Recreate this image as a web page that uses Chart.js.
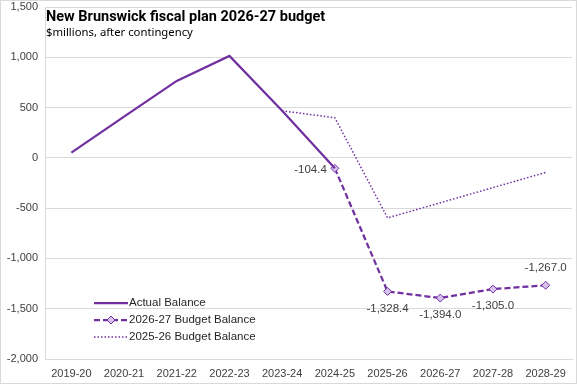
<!DOCTYPE html>
<html>
<head>
<meta charset="utf-8">
<script src="https://cdn.jsdelivr.net/npm/chart.js@4/dist/chart.umd.min.js"></script>
<style>
  html, body { margin: 0; padding: 0; background: #fff; }
  #wrap { position: relative; width: 577px; height: 384px; }
  #frame { position: absolute; left: 0; top: 0; width: 577px; height: 384px; box-sizing: border-box;
           border: 1px solid #d9d9d9; pointer-events: none; }
  #title { position: absolute; left: 46px; top: 8px; font: bold 14.5px Roboto, sans-serif; color: #000; }
  #subtitle { position: absolute; left: 46px; top: 24px; font: 11.3px "Noto Sans", sans-serif; color: #000; }
  #legend { position: absolute; left: 94px; top: 294px; font: 11.5px "Liberation Sans", Arial, sans-serif; color: #262626; }
  #legend div { height: 17px; line-height: 17px; display: flex; align-items: center; }
  #legend svg { margin-right: 1px; }
</style>
</head>
<body>
<div id="wrap">
  <canvas id="fiscalChart" width="577" height="384"></canvas>
  <div id="title">New Brunswick fiscal plan 2026-27 budget</div>
  <div id="subtitle">$millions, after contingency</div>
  <div id="legend">
    <div><svg width="34" height="10"><line x1="0" y1="5" x2="34" y2="5" stroke="#7030A0" stroke-width="2.25"/></svg>Actual Balance</div>
    <div><svg width="34" height="10"><line x1="0" y1="5" x2="34" y2="5" stroke="#7030A0" stroke-width="2.25" stroke-dasharray="6,3"/><polygon points="17,1 21,5 17,9 13,5" fill="#D6C2EE" stroke="#7030A0" stroke-width="1"/></svg>2026-27 Budget Balance</div>
    <div><svg width="34" height="10"><line x1="0" y1="5" x2="34" y2="5" stroke="#7030A0" stroke-width="1.5" stroke-dasharray="1.5,2"/></svg>2025-26 Budget Balance</div>
  </div>
  <div id="frame"></div>
</div>
<script>
var years = ["2019-20", "2020-21", "2021-22", "2022-23", "2023-24", "2024-25", "2025-26", "2026-27", "2027-28", "2028-29"];
var actualBalance = [52, 410, 765, 1013, 468, -104.4, null, null, null, null];
var budget2627 = [null, null, null, null, null, -104.4, -1328.4, -1394.0, -1305.0, -1267.0];
var budget2526 = [null, null, null, null, 468, 399, -597, -447, -296, -145];
var yTicks = [-2000, -1500, -1000, -500, 0, 500, 1000, 1500];

var purple = "#7030A0";

// value labels on the 2026-27 budget line
var valueLabels = {
    id: 'valueLabels',
    afterDatasetsDraw: function(chart) {
        var ctx = chart.ctx;
        var meta = chart.getDatasetMeta(1);
        ctx.save();
        ctx.font = '11.5px "Liberation Sans", Arial, sans-serif';
        ctx.fillStyle = '#404040';
        ctx.textBaseline = 'middle';
        meta.data.forEach(function(pt, i) {
            var v = budget2627[i];
            if (v === null) return;
            var txt = v.toLocaleString('en-US', {minimumFractionDigits: 1, maximumFractionDigits: 1});
            if (i === 5) {
                ctx.textAlign = 'right';
                ctx.fillText(txt, pt.x - 8, pt.y + 1);
            } else if (i === 9) {
                ctx.textAlign = 'center';
                ctx.fillText(txt, pt.x, pt.y - 17);
            } else {
                ctx.textAlign = 'center';
                ctx.fillText(txt, pt.x, pt.y + 17);
            }
        });
        ctx.restore();
    }
};

var ctx = document.getElementById('fiscalChart').getContext('2d');
var myChart = new Chart(ctx, {
    type: 'line',
    data: {
        labels: years,
        datasets: [{
            label: "Actual Balance",
            data: actualBalance,
            borderColor: purple,
            borderWidth: 2.25,
            pointRadius: 0,
            tension: 0
        }, {
            label: "2026-27 Budget Balance",
            data: budget2627,
            borderColor: purple,
            borderWidth: 2.25,
            borderDash: [6, 3],
            pointStyle: 'rectRot',
            pointRadius: 4,
            pointBackgroundColor: "#D6C2EE",
            pointBorderColor: purple,
            pointBorderWidth: 1,
            tension: 0
        }, {
            label: "2025-26 Budget Balance",
            data: budget2526,
            borderColor: purple,
            borderWidth: 1.5,
            borderDash: [1.5, 2],
            pointRadius: 0,
            tension: 0
        }]
    },
    options: {
        responsive: false,
        animation: false,
        layout: { padding: { top: 7, right: 4, left: 0, bottom: 0 } },
        plugins: {
            legend: { display: false },
            tooltip: { enabled: false }
        },
        scales: {
            x: {
                offset: true,
                grid: { display: false, drawTicks: false },
                border: { color: '#d9d9d9' },
                ticks: {
                    color: '#404040',
                    font: { family: '"Liberation Sans", Arial, sans-serif', size: 11 },
                    maxRotation: 0,
                    autoSkip: false,
                    padding: 8
                },
                afterFit: function(scale) { scale.height = 25; scale.paddingLeft = 0; scale.paddingRight = 0; }
            },
            y: {
                min: -2000,
                max: 1500,
                afterBuildTicks: function(scale) {
                    scale.ticks = yTicks.map(function(v) { return {value: v}; });
                },
                grid: { color: '#d9d9d9', drawTicks: false },
                border: { color: '#d9d9d9' },
                ticks: {
                    color: '#404040',
                    font: { family: '"Liberation Sans", Arial, sans-serif', size: 11 },
                    padding: 7,
                    callback: function(v) { return v.toLocaleString('en-US'); }
                },
                afterFit: function(scale) { scale.width = 45; scale.paddingTop = 0; scale.paddingBottom = 0; }
            }
        }
    },
    plugins: [valueLabels]
});
</script>
</body>
</html>
